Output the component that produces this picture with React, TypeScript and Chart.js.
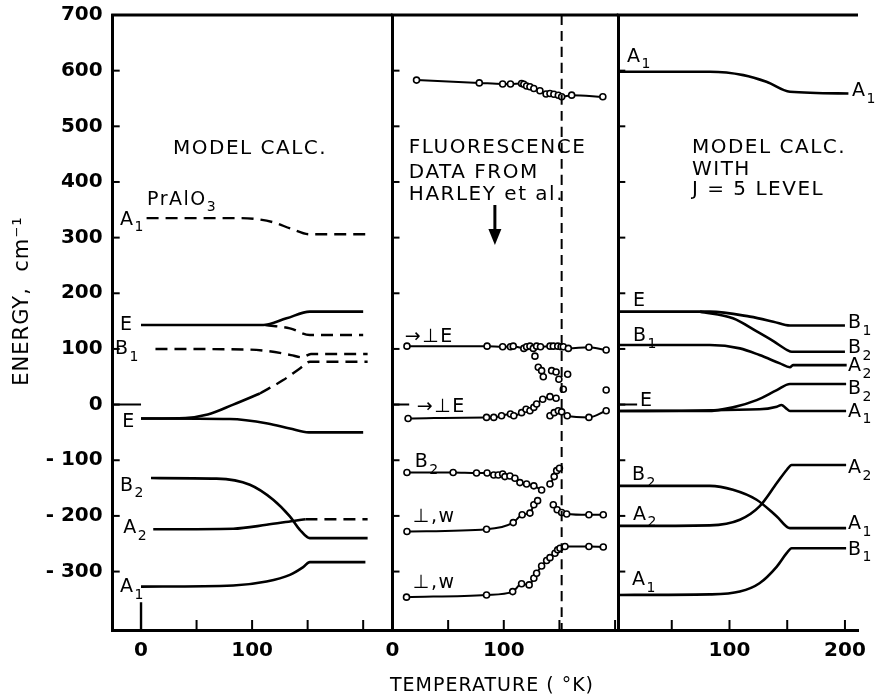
import React, { useEffect, useRef } from 'react';
import { Chart, registerables } from 'chart.js';
Chart.register(...registerables);

type Pt = [number, number];
type Label = { t: number; e: number; text: string; sub?: string; size?: number };

const FONT = '"DejaVu Sans", sans-serif';
const W = 876;
const H = 700;

// ---------------- axes ----------------
const yMin = -405;
const yMax = 700;
const yTickValues = [-300, -200, -100, 0, 100, 200, 300, 400, 500, 600, 700];
const yTickLabels = ['- 300', '- 200', '- 100', '0', '100', '200', '300', '400', '500', '600', '700'];

const p1XTicks = [0, 50, 100, 150, 200];
const p1XLabels = [0, 100];
const p2XTicks = [0, 50, 100, 150, 200];
const p2XLabels = [0, 100];
const p3XTicks = [50, 100, 150, 200];
const p3XLabels = [100, 200];

// ---------------- panel 1 : model calc. PrAlO3 ----------------
const p1A1Upper: Pt[] = [[5, 335], [90, 335], [105, 333], [120, 327], [135, 316], [152, 306], [203, 306]];
const p1EUpper: Pt[] = [[0, 143], [60, 143], [110, 143], [131, 155], [152, 167], [200, 167]];
const p1ESplit: Pt[] = [[112, 143], [134, 137], [152, 125], [200, 125]];
const p1B1: Pt[] = [[13, 100], [95, 99], [115, 96], [135, 89], [145, 85], [153, 91], [204, 91]];
const p1ERiseSolid: Pt[] = [[0, -25], [40, -24], [60, -18], [83, 0], [107, 20]];
const p1ERiseDash: Pt[] = [[107, 20], [128, 44], [143, 65], [152, 77], [204, 77]];
const p1ELower: Pt[] = [[0, -25], [80, -26], [114, -34], [134, -43], [151, -50], [200, -50]];
const p1B2: Pt[] = [[9, -132], [68, -133], [98, -144], [119, -171], [134, -201], [143, -225], [152, -240], [204, -240]];
const p1A2Solid: Pt[] = [[11, -224], [83, -223], [113, -216], [137, -209], [148, -206]];
const p1A2Dash: Pt[] = [[148, -206], [204, -206]];
const p1A1Lower: Pt[] = [[0, -327], [83, -325], [113, -318], [134, -306], [146, -292], [152, -283], [202, -283]];
const p1ZeroMarkV: Pt[] = [[0, -405], [0, -355]];
const p1ZeroMarkH: Pt[] = [[-25.5, 0], [0, 0]];

// ---------------- panel 2 : fluorescence data ----------------
const p2Top: Pt[] = [[21.6, 583], [78, 578], [99, 576], [106, 576], [116, 577], [118, 575.5], [120.5, 572.5], [123.5, 571], [127, 568], [132.5, 564], [138, 558], [141.5, 559], [145, 557.5], [149, 555.7], [152, 553], [161, 556], [189, 553]];
const p2PerpE1: Pt[] = [[13, 105], [85, 105], [99, 104], [106, 104], [108.5, 105], [118, 101], [120.5, 104], [123.5, 105], [126.5, 101], [129.5, 105], [133, 104], [141.5, 105], [144.5, 105], [148.5, 105], [151.5, 104], [153.5, 104], [158, 101], [176.5, 103], [192, 98]];
const p2Scatter: Pt[] = [[128, 87], [131, 67], [134, 61], [135.5, 50], [143, 61], [147, 58.6], [149.5, 45.5], [153.5, 27.5], [157.4, 54.5], [192, 26.3]];
const p2PerpE2a: Pt[] = [[14, -25], [84.5, -23], [91, -23], [98, -20], [106, -17], [109, -20], [116, -14.5], [120, -8.5], [123.5, -11], [127, -5], [129.5, 1], [135, 9.6], [141.5, 14.3], [147, 11.3]];
const p2PerpE2b: Pt[] = [[141.5, -20], [145.3, -14.5], [149, -11], [152, -13], [157, -20], [176.5, -23], [192, -11]];
const p2B2a: Pt[] = [[13, -122], [54.5, -122], [75.5, -123], [85, -123], [91, -126.5], [95, -126.5], [99, -124.6], [101, -129.4], [105.5, -128.2], [110, -132.4], [114.5, -140.2], [120.5, -142.6], [127, -146], [134, -153.4]];
const p2B2b: Pt[] = [[141.5, -142.6], [145.3, -129.4], [147.5, -118.7], [150, -114.4]];
const p2Wa: Pt[] = [[13, -228], [84.5, -224], [108.5, -212], [116.5, -198], [123.5, -195], [127, -180], [130.4, -172.6]];
const p2Wb: Pt[] = [[144.5, -180], [148, -189], [152, -194], [156.5, -196.5], [176.5, -198], [189.4, -198]];
const p2W2: Pt[] = [[12.6, -346], [84.5, -342], [108, -336], [116, -322], [122.8, -324], [127, -312], [129.5, -303], [134, -290], [138.5, -280], [141.5, -275], [146, -267], [148.4, -261], [150.5, -258], [155, -255], [176.5, -255], [189.4, -256]];
const p2Transition: Pt[] = [[152, 700], [152, -405]];
const p2ZeroMark: Pt[] = [[0, 0], [15, 0]];

// ---------------- panel 3 : model calc. with J = 5 level ----------------
const p3A1Top: Pt[] = [[3.7, 598], [83, 598], [112, 592], [132, 580], [152.4, 562], [203, 559]];
const p3EtoB1: Pt[] = [[3.7, 167], [83, 167], [117.7, 158], [138, 149], [152.4, 142], [200, 142]];
const p3EtoB2: Pt[] = [[74.5, 167], [103, 155], [124, 131], [138, 114], [150, 98], [154, 95], [200, 95]];
const p3B1toA2: Pt[] = [[3.7, 107], [83, 107], [109, 101], [126, 89], [143.7, 74], [152.4, 67], [155, 71], [201.5, 71]];
const p3EtoB2b: Pt[] = [[3.7, -11.5], [80, -11.5], [103, -5], [123.5, 8], [141, 26], [152.4, 37], [201, 37]];
const p3EtoA1: Pt[] = [[3.7, -11.5], [126, -8.5], [141, -3.7], [145, -0.7], [149, -6.7], [152.4, -11.5], [201, -11.5]];
const p3B2toA1: Pt[] = [[3.7, -146], [83, -146], [103, -153], [123.5, -171], [141, -201], [152.4, -222], [201, -222]];
const p3A2toA2: Pt[] = [[3.7, -218], [83, -217], [109, -207], [126, -183], [141, -141], [149.5, -117.5], [153.8, -108.5], [201, -108.5]];
const p3A1toB1: Pt[] = [[3.7, -342], [83, -341], [109, -336], [126, -321], [141, -291], [149.5, -267], [153.8, -258], [201, -258]];
const p3ZeroMark: Pt[] = [[3.7, 0], [20, 0]];

// ---------------- annotation labels (data coordinates) ----------------
const p1Labels: Label[] = [
  { t: 28.8, e: 459, text: 'MODEL CALC.', size: 20 },
  { t: -19, e: 332, text: 'A', sub: '1' },
  { t: 5.4, e: 368, text: 'PrAlO', sub: '3' },
  { t: -19, e: 143, text: 'E' },
  { t: -23.4, e: 100, text: 'B', sub: '1' },
  { t: -17, e: -31, text: 'E' },
  { t: -19, e: -146, text: 'B', sub: '2' },
  { t: -16, e: -222, text: 'A', sub: '2' },
  { t: -19, e: -328, text: 'A', sub: '1' },
];
const p2Labels: Label[] = [
  { t: 14.7, e: 462, text: 'FLUORESCENCE', size: 20 },
  { t: 14.7, e: 416, text: 'DATA FROM', size: 20 },
  { t: 14.7, e: 377, text: 'HARLEY et al.', size: 20 },
  { t: 11, e: 122, text: '→⊥E' },
  { t: 21.8, e: -4, text: '→⊥E' },
  { t: 20, e: -103, text: 'B', sub: '2' },
  { t: 18.3, e: -202, text: '⊥,w' },
  { t: 18.3, e: -320, text: '⊥,w' },
];
const p2Arrow = { t: 92, from: 358.6, to: 286.8 };
const p3Labels: Label[] = [
  { t: 67.5, e: 461, text: 'MODEL CALC.', size: 20 },
  { t: 67.5, e: 421.5, text: 'WITH', size: 20 },
  { t: 67.5, e: 385.6, text: 'J = 5 LEVEL', size: 20 },
  { t: 11.3, e: 625, text: 'A', sub: '1' },
  { t: 206, e: 563, text: 'A', sub: '1' },
  { t: 16.5, e: 186, text: 'E' },
  { t: 16.5, e: 123, text: 'B', sub: '1' },
  { t: 202.6, e: 146.7, text: 'B', sub: '1' },
  { t: 202.6, e: 101.7, text: 'B', sub: '2' },
  { t: 202.6, e: 69, text: 'A', sub: '2' },
  { t: 202.6, e: 28, text: 'B', sub: '2' },
  { t: 202.6, e: -13, text: 'A', sub: '1' },
  { t: 22.5, e: 6.5, text: 'E' },
  { t: 15.6, e: -126.4, text: 'B', sub: '2' },
  { t: 16.5, e: -198, text: 'A', sub: '2' },
  { t: 202.6, e: -114, text: 'A', sub: '2' },
  { t: 202.6, e: -214.5, text: 'A', sub: '1' },
  { t: 202.6, e: -261, text: 'B', sub: '1' },
  { t: 15.6, e: -315, text: 'A', sub: '1' },
];

const xTitle = 'TEMPERATURE ( °K)';
const yTitle = 'ENERGY,  cm⁻¹';

// ---------------- helpers ----------------
const toXY = (pts: Pt[]) => pts.map(([x, y]) => ({ x, y }));

function curve(pts: Pt[], extra: any = {}) {
  return {
    data: toXY(pts),
    borderColor: '#000',
    borderWidth: 2.6,
    pointRadius: 0,
    fill: false,
    cubicInterpolationMode: 'monotone',
    ...extra,
  };
}
const dashed = { borderDash: [12, 7], borderWidth: 2.4 };
const dataLine = (pts: Pt[]) =>
  curve(pts, {
    borderWidth: 2,
    pointRadius: 3,
    pointBorderWidth: 1.6,
    pointBackgroundColor: '#fff',
    pointBorderColor: '#000',
  });

function setSpacing(ctx: any, v: string) {
  try { ctx.letterSpacing = v; } catch (e) { /* ignore */ }
}

function drawLabel(ctx: CanvasRenderingContext2D, x: number, y: number, l: Label) {
  const size = l.size ?? 19;
  ctx.font = `${size}px ${FONT}`;
  ctx.textAlign = 'left';
  ctx.textBaseline = 'middle';
  setSpacing(ctx, '1.5px');
  ctx.fillText(l.text, x, y);
  if (l.sub) {
    const w = ctx.measureText(l.text).width;
    ctx.font = `${Math.round(size * 0.75)}px ${FONT}`;
    ctx.fillText(l.sub, x + w, y + size * 0.42);
  }
  setSpacing(ctx, '0px');
}

interface PanelSpec {
  datasets: any[];
  xMin: number;
  xMax: number;
  xTicks: number[];
  xLabels: number[];
  padLeft: number;
  padRight: number;
  yWidth: number;
  showY: boolean;
  labels: Label[];
  arrow?: { t: number; from: number; to: number };
  titles?: boolean;
}

function makePlugin(p: PanelSpec) {
  return {
    id: 'figureDecor',
    afterDraw(chart: any) {
      const { ctx, chartArea } = chart;
      const { left, right, top, bottom } = chartArea;
      const xs = chart.scales.x;
      const ys = chart.scales.y;
      ctx.save();
      ctx.strokeStyle = '#000';
      ctx.fillStyle = '#000';
      // top frame line
      ctx.lineWidth = 3;
      ctx.beginPath();
      ctx.moveTo(left - 1.5, top);
      ctx.lineTo(right, top);
      ctx.stroke();
      // inward tick marks
      ctx.lineWidth = 2;
      for (const t of ys.ticks) {
        const py = ys.getPixelForValue(t.value);
        ctx.beginPath();
        ctx.moveTo(left, py);
        ctx.lineTo(left + 7, py);
        ctx.stroke();
      }
      for (const t of xs.ticks) {
        const px = xs.getPixelForValue(t.value);
        ctx.beginPath();
        ctx.moveTo(px, bottom);
        ctx.lineTo(px, bottom - 10);
        ctx.stroke();
      }
      // labels
      for (const l of p.labels) {
        drawLabel(ctx, xs.getPixelForValue(l.t), ys.getPixelForValue(l.e), l);
      }
      // arrow
      if (p.arrow) {
        const ax = xs.getPixelForValue(p.arrow.t);
        const y1 = ys.getPixelForValue(p.arrow.from);
        const y2 = ys.getPixelForValue(p.arrow.to);
        ctx.lineWidth = 3;
        ctx.beginPath();
        ctx.moveTo(ax, y1);
        ctx.lineTo(ax, y2 - 12);
        ctx.stroke();
        ctx.beginPath();
        ctx.moveTo(ax - 6.5, y2 - 16);
        ctx.lineTo(ax + 6.5, y2 - 16);
        ctx.lineTo(ax, y2);
        ctx.closePath();
        ctx.fill();
      }
      // figure titles
      if (p.titles) {
        ctx.font = `19px ${FONT}`;
        ctx.textAlign = 'center';
        ctx.textBaseline = 'middle';
        setSpacing(ctx, '1px');
        ctx.fillText(xTitle, 492, 686);
        ctx.save();
        ctx.translate(23, 301);
        ctx.rotate(-Math.PI / 2);
        ctx.font = `21px ${FONT}`;
        ctx.fillText(yTitle, 0, 0);
        ctx.restore();
        setSpacing(ctx, '0px');
      }
      ctx.restore();
    },
  };
}

function buildConfig(p: PanelSpec): any {
  const tickFont = { family: FONT, size: 20, weight: 'bold' as const };
  return {
    type: 'line',
    data: { datasets: p.datasets },
    options: {
      responsive: false,
      animation: false,
      events: [],
      layout: { padding: { left: p.padLeft, right: p.padRight, top: 15, bottom: 0 } },
      plugins: { legend: { display: false }, tooltip: { enabled: false } },
      scales: {
        x: {
          type: 'linear',
          min: p.xMin,
          max: p.xMax,
          afterFit: (s: any) => {
            s.height = 70;
            s.paddingLeft = 0;
            s.paddingRight = 0;
          },
          afterBuildTicks: (s: any) => { s.ticks = p.xTicks.map((v) => ({ value: v })); },
          ticks: {
            autoSkip: false,
            maxRotation: 0,
            padding: 9,
            color: '#000',
            font: tickFont,
            callback: (v: number) => (p.xLabels.includes(v) ? String(v) : ''),
          },
          grid: { drawOnChartArea: false, drawTicks: false },
          border: { display: true, color: '#000', width: 3 },
        },
        y: {
          type: 'linear',
          min: yMin,
          max: yMax,
          afterFit: (s: any) => {
            s.width = p.yWidth;
            s.paddingTop = 0;
            s.paddingBottom = 0;
          },
          afterBuildTicks: (s: any) => { s.ticks = yTickValues.map((v) => ({ value: v })); },
          ticks: {
            display: p.showY,
            padding: 10,
            color: '#000',
            font: tickFont,
            callback: (v: number) => yTickLabels[yTickValues.indexOf(v)] ?? '',
          },
          grid: { drawOnChartArea: false, drawTicks: false },
          border: { display: true, color: '#000', width: 3 },
        },
      },
    },
    plugins: [makePlugin(p)],
  };
}

const panels: PanelSpec[] = [
  {
    datasets: [
      curve(p1A1Upper, dashed),
      curve(p1EUpper),
      curve(p1ESplit, dashed),
      curve(p1B1, dashed),
      curve(p1ERiseSolid),
      curve(p1ERiseDash, dashed),
      curve(p1ELower),
      curve(p1B2),
      curve(p1A2Solid),
      curve(p1A2Dash, dashed),
      curve(p1A1Lower),
      curve(p1ZeroMarkV, { borderWidth: 2.4 }),
      curve(p1ZeroMarkH, { borderWidth: 2 }),
    ],
    xMin: -25.5,
    xMax: 226.4,
    xTicks: p1XTicks,
    xLabels: p1XLabels,
    padLeft: 0,
    padRight: W - 392.5,
    yWidth: 112.7,
    showY: true,
    labels: p1Labels,
    titles: true,
  },
  {
    datasets: [
      curve(p2Transition, { borderDash: [10, 6], borderWidth: 2 }),
      dataLine(p2Top),
      dataLine(p2PerpE1),
      {
        data: toXY(p2Scatter),
        showLine: false,
        pointRadius: 3,
        pointBorderWidth: 1.6,
        pointBackgroundColor: '#fff',
        pointBorderColor: '#000',
      },
      dataLine(p2PerpE2a),
      dataLine(p2PerpE2b),
      dataLine(p2B2a),
      dataLine(p2B2b),
      dataLine(p2Wa),
      dataLine(p2Wb),
      dataLine(p2W2),
      curve(p2ZeroMark, { borderWidth: 2 }),
    ],
    xMin: 0,
    xMax: 202.9,
    xTicks: p2XTicks,
    xLabels: p2XLabels,
    padLeft: 392.5,
    padRight: W - 618.3,
    yWidth: 0,
    showY: false,
    labels: p2Labels,
    arrow: p2Arrow,
  },
  {
    datasets: [
      curve(p3A1Top),
      curve(p3EtoB1),
      curve(p3EtoB2),
      curve(p3B1toA2),
      curve(p3EtoB2b),
      curve(p3EtoA1),
      curve(p3B2toA1),
      curve(p3A2toA2),
      curve(p3A1toB1),
      curve(p3ZeroMark, { borderWidth: 2 }),
    ],
    xMin: 3.7,
    xMax: 211.3,
    xTicks: p3XTicks,
    xLabels: p3XLabels,
    padLeft: 618.3,
    padRight: W - 858,
    yWidth: 0,
    showY: false,
    labels: p3Labels,
  },
];

function Panel({ spec }: { spec: PanelSpec }) {
  const ref = useRef<HTMLCanvasElement | null>(null);
  useEffect(() => {
    if (!ref.current) return;
    const chart = new Chart(ref.current, buildConfig(spec));
    return () => chart.destroy();
  }, [spec]);
  return (
    <canvas
      ref={ref}
      width={W}
      height={H}
      style={{ position: 'absolute', left: 0, top: 0, width: W, height: H }}
    />
  );
}

export default function App() {
  return (
    <div style={{ position: 'absolute', left: 0, top: 0, width: W, height: H, background: '#fff' }}>
      {panels.map((p, i) => (
        <Panel key={i} spec={p} />
      ))}
    </div>
  );
}
